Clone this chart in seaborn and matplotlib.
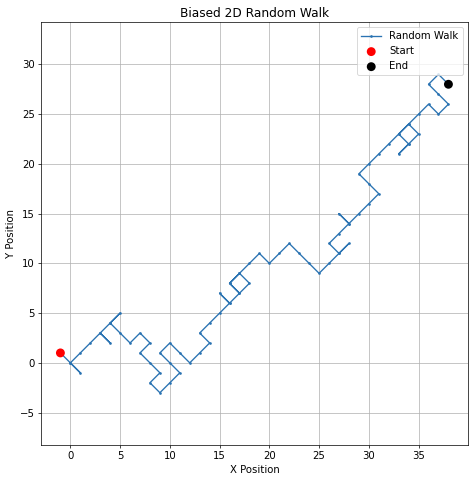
import matplotlib
matplotlib.use('Agg')
import matplotlib.pyplot as plt
import seaborn as sns

# Walk path (diagonal unit steps)
walk_x = [-1, 0, 1, 0, 1, 2, 3, 4, 3, 4, 5, 4, 5, 6, 7, 8, 7, 8, 9, 8, 9, 10, 11, 10, 9, 10, 11, 12,
          13, 14, 13, 14, 15, 16, 15, 16, 17, 18, 17, 16, 17, 16, 17, 18, 19, 20, 21, 22, 23, 24,
          25, 26, 27, 28, 27, 26, 27, 28, 27, 28, 29, 30, 31, 30, 29, 30, 31, 32, 33, 34, 33, 34,
          35, 34, 33, 34, 35, 36, 37, 38, 37, 36, 37, 38]
walk_y = [1, 0, -1, 0, 1, 2, 3, 2, 3, 4, 5, 4, 3, 2, 3, 2, 1, 0, -1, -2, -3, -2, -1, 0, 1, 2, 1, 0,
          1, 2, 3, 4, 5, 6, 7, 6, 7, 8, 9, 8, 7, 8, 9, 10, 11, 10, 11, 12, 11, 10,
          9, 10, 11, 12, 11, 12, 13, 14, 15, 14, 15, 16, 17, 18, 19, 20, 21, 22, 23, 22, 21, 22,
          23, 24, 23, 24, 25, 26, 25, 26, 27, 28, 29, 28]

plt.rcParams['font.size'] = 11.4

dpi = 64
fig, ax = plt.subplots(figsize=(474 / dpi, 480 / dpi), dpi=dpi)
fig.subplots_adjust(left=0.0865, right=0.987, top=0.954, bottom=0.073)

sns.lineplot(x=walk_x, y=walk_y, sort=False, estimator=None, marker='.',
             markersize=6, markeredgewidth=0, color='#2a73b2', label='Random Walk', ax=ax)
sns.scatterplot(x=[walk_x[0]], y=[walk_y[0]], color='red', s=100, edgecolor='none',
                label='Start', zorder=3, ax=ax)
sns.scatterplot(x=[walk_x[-1]], y=[walk_y[-1]], color='black', s=100, edgecolor='none',
                label='End', zorder=3, ax=ax)

ax.set_title('Biased 2D Random Walk')
ax.set_xlabel('X Position')
ax.set_ylabel('Y Position')
ax.grid(True)
ax.axis('equal')
ax.legend(loc='upper right')

plt.savefig('out.png', dpi=dpi)
